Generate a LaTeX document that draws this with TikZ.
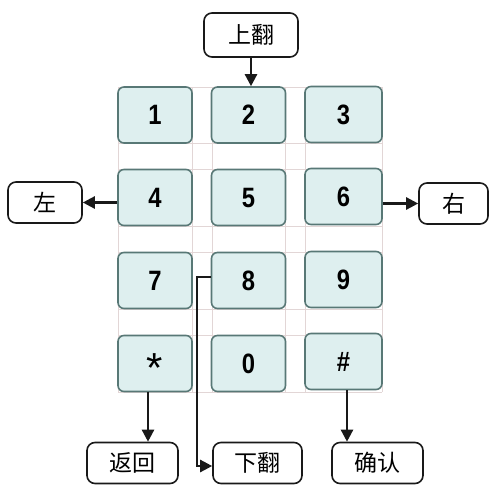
\documentclass[tikz,border=0pt]{standalone}
\usepackage{fontspec}
\setmainfont{Liberation Sans}
\newfontfamily\cjk{Noto Sans CJK SC}
\usetikzlibrary{arrows.meta,calc}
\definecolor{keyfill}{RGB}{222,239,239}
\definecolor{keyedge}{RGB}{88,120,118}
\definecolor{gridc}{RGB}{226,214,214}
\tikzset{
  key/.style={draw=keyedge,fill=keyfill,line width=1.6pt,rounded corners=6pt,
    minimum width=74pt,minimum height=56pt,inner sep=0pt,
    font=\fontsize{28}{28}\selectfont\bfseries},
  lbl/.style={draw=black!90,line width=1.6pt,rounded corners=8pt,fill=white,
    minimum height=41pt,inner sep=0pt,font=\fontsize{23}{23}\selectfont\cjk},
  arr/.style={line width=2.4pt,draw=black!90,-{Triangle[length=12pt,width=12pt]}},
  gridline/.style={draw=gridc,line width=0.7pt}
}
\begin{document}
\begin{tikzpicture}[x=1pt,y=-1pt]
\useasboundingbox (0,0) rectangle (489,485);
% faint grid
\foreach \gx in {118,192,212,285,305,382}{\draw[gridline] (\gx,87) -- (\gx,392);}
\foreach \gy in {87,143,169,226,252,309,335,392}{\draw[gridline] (118,\gy) -- (382,\gy);}
% keys
\node[key] (k1) at (155,115) {\scalebox{0.85}[1]{1}};
\node[key] (k2) at (248.5,115) {\scalebox{0.85}[1]{2}};
\node[key,minimum width=77pt] (k3) at (343.5,114.5) {\scalebox{0.85}[1]{3}};
\node[key] (k4) at (155,197.5) {\scalebox{0.85}[1]{4}};
\node[key] (k5) at (248.5,197.5) {\scalebox{0.85}[1]{5}};
\node[key,minimum width=77pt] (k6) at (343.5,196.5) {\scalebox{0.85}[1]{6}};
\node[key] (k7) at (155,280.5) {\scalebox{0.85}[1]{7}};
\node[key] (k8) at (248.5,280.5) {\scalebox{0.85}[1]{8}};
\node[key,minimum width=77pt] (k9) at (343.5,279.5) {\scalebox{0.85}[1]{9}};
\node[key,font=\fontsize{42}{42}\selectfont,text height=0pt,text depth=0pt] (kstar) at (155,363.5) {\raisebox{-19pt}{*}};
\node[key] (k0) at (248.5,363.5) {\scalebox{0.85}[1]{0}};
\node[key,minimum width=77pt] (khash) at (343.5,361.5) {\scalebox{0.85}[1]{\#}};
% labels
\node[lbl,minimum width=94pt,minimum height=44pt] (up) at (251,35) {上翻};
\node[lbl,minimum width=74pt] (left) at (45,202.5) {左};
\node[lbl,minimum width=69pt] (right) at (453.5,203.5) {右};
\node[lbl,minimum width=91pt] (back) at (132.5,463) {返回};
\node[lbl,minimum width=89pt] (down) at (257.5,463) {下翻};
\node[lbl,minimum width=91pt] (ok) at (377.5,463) {确认};
% connector helper points
\coordinate (sA) at ($(kstar.south)+(-7,0)$);
\coordinate (sB) at ($(khash.south)+(3.5,0)$);
\coordinate (sC) at ($(k8.west)+(0,-3.5)$);
\coordinate (sD) at ($(down.west)+(0,3)$);
% arrows
\draw[arr] (up.south) -- (up.south |- k2.north);
\draw[arr] (k4.west |- left.east) -- (left.east);
\draw[arr] (k6.east |- right.west) -- (right.west);
\draw[arr] (sA) -- (sA |- back.north);
\draw[arr] (sB) -- (sB |- ok.north);
\draw[arr] (sC) -- ++(-14,0) |- (sD);
\end{tikzpicture}
\end{document}
